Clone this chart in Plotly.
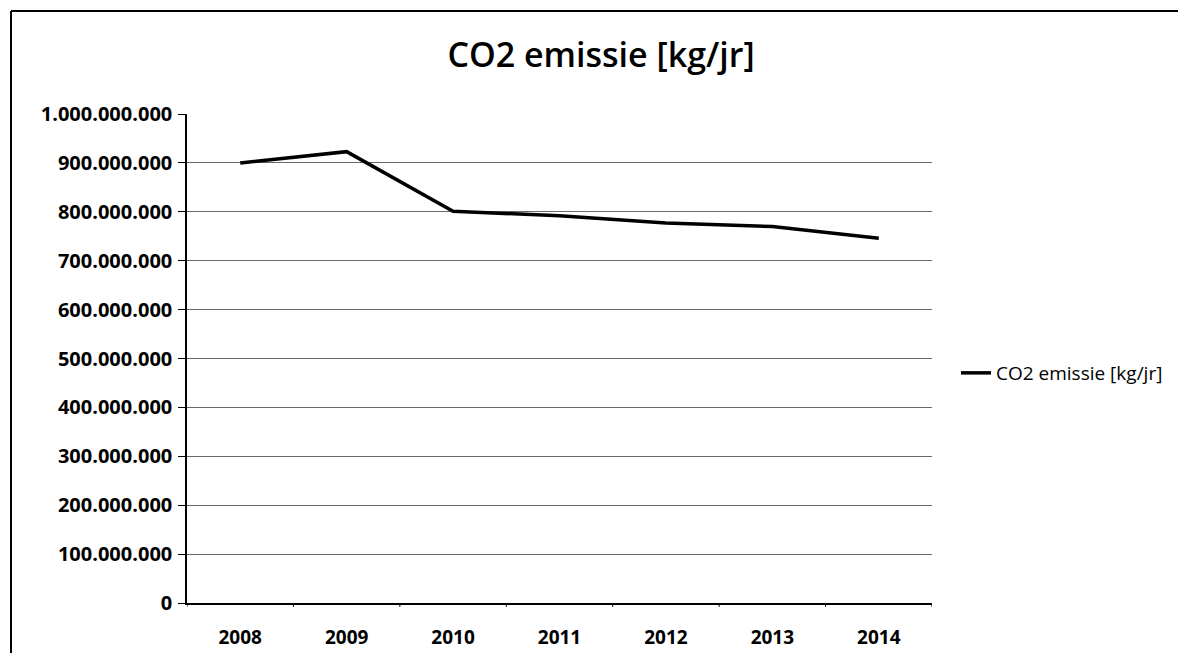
import plotly.graph_objects as go

years = ["2008", "2009", "2010", "2011", "2012", "2013", "2014"]
emissions = [900000000, 923000000, 801000000, 792000000, 777000000, 770000000, 746000000]
y_ticks = [0, 100000000, 200000000, 300000000, 400000000, 500000000,
           600000000, 700000000, 800000000, 900000000, 1000000000]
series_name = "CO2 emissie [kg/jr]"
title_text = "CO2 emissie [kg/jr]"

# page is rendered with an 8px body margin
OFF = 8
W, H = 1187 - 2 * OFF, 661 - 2 * OFF
# plot area in page pixels
L, R, T, B = 187, 932, 114, 603

fig = go.Figure()
fig.add_trace(go.Scatter(
    x=years, y=emissions, mode="lines", name=series_name,
    line=dict(color="black", width=3.5),
))

def px_x(p):
    return (p - L) / (R - L)

def px_y(p):
    return (B - p) / (B - T)

fig.update_layout(
    width=W, height=H,
    margin=dict(l=L - OFF, r=W - (R - OFF), t=T - OFF, b=H - (B - OFF), pad=0,
                autoexpand=False),
    paper_bgcolor="white", plot_bgcolor="white",
    separators=",.",
    font=dict(family="Open Sans, Lato, sans-serif", color="black"),
    title=dict(text=title_text, x=(601 - OFF) / W, xanchor="center",
               y=1 - (55 - OFF) / H, yanchor="middle",
               font=dict(size=34, family="Open Sans, sans-serif", color="black", weight=600)),
    showlegend=True,
    legend=dict(x=px_x(956), y=px_y(373), xanchor="left", yanchor="middle",
                font=dict(size=19, color="black"), bgcolor="rgba(0,0,0,0)",
                borderwidth=0, itemwidth=30),
    xaxis=dict(
        type="category", range=[-0.5, 6.5], automargin=False,
        showline=True, linecolor="black", linewidth=1.5,
        showgrid=False, ticks="",
        tickfont=dict(size=19, family="Open Sans", color="black", weight="bold"),
        ticklabelstandoff=16,
    ),
    yaxis=dict(
        range=[0, 1000000000], tickvals=y_ticks, tickformat=",d", automargin=False,
        showline=True, linecolor="black", linewidth=1.5,
        showgrid=True, gridcolor="#6a6a6a", gridwidth=1,
        ticks="outside", ticklen=7, tickcolor="black",
        tickfont=dict(size=20, family="Open Sans", color="black", weight="bold"),
        ticklabelstandoff=2,
        zeroline=False,
    ),
)

# x-axis category boundary tick marks
for k in range(8):
    fig.add_shape(type="line", xref="x", yref="paper",
                  x0=k - 0.5, x1=k - 0.5, y0=0, y1=-0.008,
                  line=dict(color="black", width=1))

# outer chart border (left and top edges)
fig.add_shape(type="line", xref="paper", yref="paper",
              x0=px_x(11), x1=px_x(11), y0=px_y(11), y1=px_y(660),
              line=dict(color="black", width=2), layer="below")
fig.add_shape(type="line", xref="paper", yref="paper",
              x0=px_x(11), x1=px_x(W + OFF - 1), y0=px_y(11), y1=px_y(11),
              line=dict(color="black", width=2), layer="below")

fig.write_html("out.html")
